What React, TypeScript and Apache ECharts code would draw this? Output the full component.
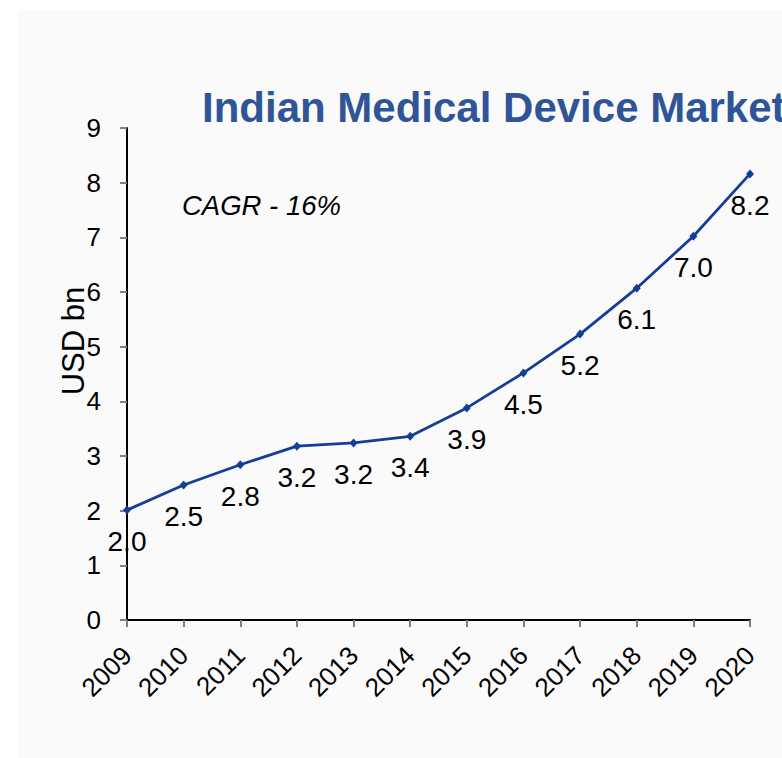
import React, { useEffect, useRef } from "react";
import * as echarts from "echarts";

const years = ["2009", "2010", "2011", "2012", "2013", "2014", "2015", "2016", "2017", "2018", "2019", "2020"];
const marketValues = [2.01, 2.47, 2.84, 3.18, 3.24, 3.36, 3.88, 4.52, 5.23, 6.07, 7.02, 8.16];
const titleText = "Indian Medical Device Market";
const cagrText = "CAGR - 16%";
const yAxisTitle = "USD bn";

export default function App() {
  const ref = useRef<HTMLDivElement>(null);
  useEffect(() => {
    if (!ref.current) return;
    const chart = echarts.init(ref.current, null, { renderer: "svg" });
    const font = "Liberation Sans, Arial, sans-serif";
    chart.setOption({
      animation: false,
      backgroundColor: "#ffffff",
      textStyle: { fontFamily: font },
      grid: { left: 127, top: 128, width: 623, height: 492, containLabel: false },
      xAxis: {
        type: "category",
        data: years,
        boundaryGap: false,
        axisLine: { lineStyle: { color: "#000", width: 2 } },
        axisTick: { show: true, length: 7, alignWithLabel: true, lineStyle: { color: "#808080", width: 2 } },
        axisLabel: {
          rotate: 45,
          fontSize: 26,
          color: "#000",
          fontFamily: font,
          margin: 31,
          verticalAlign: "middle",
          interval: 0,
        },
        splitLine: { show: false },
      },
      yAxis: {
        type: "value",
        min: 0,
        max: 9,
        interval: 1,
        axisLine: { show: true, lineStyle: { color: "#000", width: 2 } },
        axisTick: { show: true, length: 7, lineStyle: { color: "#808080", width: 2 } },
        axisLabel: { fontSize: 26, color: "#000", fontFamily: font, margin: 26 },
        splitLine: { show: false },
      },
      series: [
        {
          type: "line",
          data: marketValues,
          symbol: "diamond",
          symbolSize: [8, 9],
          lineStyle: { color: "#123E98", width: 2.8 },
          itemStyle: { color: "#123E98" },
          label: {
            show: true,
            position: "bottom",
            distance: 13,
            fontSize: 28,
            color: "#000",
            fontFamily: font,
            formatter: (p: any) => Number(p.value).toFixed(1),
          },
          z: 3,
        },
      ],
      graphic: [
        {
          type: "rect",
          z: -10,
          silent: true,
          shape: { x: 18, y: 10, width: 764, height: 748 },
          style: { fill: "#fafafa" },
        },
        {
          type: "text",
          x: 202,
          y: 107,
          style: {
            text: titleText,
            fontSize: 42,
            fontWeight: "bold",
            fontFamily: font,
            fill: "#2F5597",
            verticalAlign: "middle",
            align: "left",
          },
        },
        {
          type: "text",
          x: 182,
          y: 205,
          style: {
            text: cagrText,
            fontSize: 27.5,
            fontStyle: "italic",
            fontFamily: font,
            fill: "#000",
            verticalAlign: "middle",
            align: "left",
          },
        },
        {
          type: "text",
          x: 73,
          y: 341,
          rotation: Math.PI / 2,
          style: {
            text: yAxisTitle,
            fontSize: 31,
            fontFamily: font,
            fill: "#000",
            verticalAlign: "middle",
            align: "center",
          },
        },
      ],
    });
    return () => chart.dispose();
  }, []);
  return <div ref={ref} style={{ position: "fixed", left: 0, top: 0, width: 782, height: 758 }} />;
}
